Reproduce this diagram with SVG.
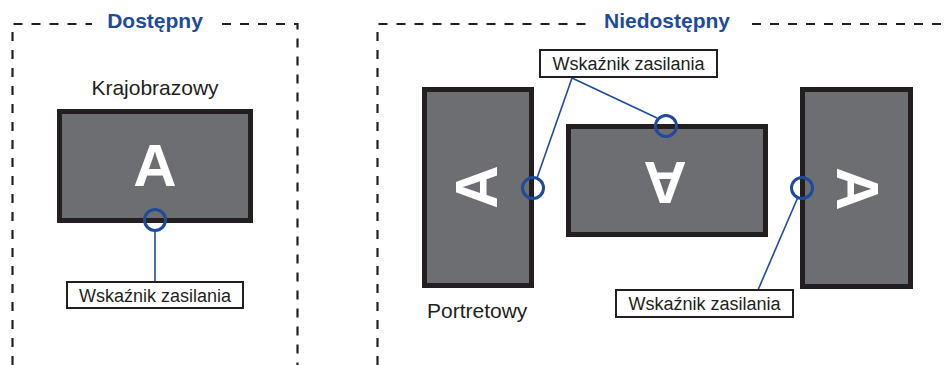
<svg xmlns="http://www.w3.org/2000/svg" width="949" height="365" viewBox="0 0 949 365">
<style>
.dash{fill:none;stroke:#231f20;stroke-width:2.2;stroke-dasharray:9 9}
.title{font-family:"Liberation Sans",Arial,sans-serif;font-weight:bold;font-size:21px;fill:#1e4b9b;text-anchor:middle}
.lbl{font-family:"Liberation Sans",Arial,sans-serif;font-size:21px;fill:#231f20}
.mon{fill:#6d6e71;stroke:#231f20;stroke-width:5}
.bigA{font-family:"Liberation Sans",Arial,sans-serif;font-weight:bold;font-size:60px;fill:#ffffff;text-anchor:middle}
.led{fill:none;stroke:#1e4b9b;stroke-width:3}
.conn{fill:none;stroke:#1e4b9b;stroke-width:1.6}
.box{fill:#ffffff;stroke:#231f20;stroke-width:2}
.boxt{font-family:"Liberation Sans",Arial,sans-serif;font-size:18px;fill:#231f20;text-anchor:middle}
</style>
<rect width="949" height="365" fill="#ffffff"/>
<g id="frame-available">
<path class="dash" d="M12.5,365 V24 H92"/>
<path class="dash" d="M222,24 H297.5 V365"/>
<text class="title" x="155" y="28">Dostępny</text>
</g>
<g id="frame-unavailable">
<path class="dash" d="M377.5,365 V24 H586"/>
<path class="dash" d="M752,24 H949"/>
<text class="title" x="667" y="28">Niedostępny</text>
</g>
<g id="landscape">
<text class="lbl" x="155" y="95" text-anchor="middle">Krajobrazowy</text>
<rect class="mon" x="59.5" y="111.5" width="191" height="109"/>
<text class="bigA" x="155" y="186">A</text>
<circle class="led" cx="155" cy="220" r="10.5"/>
</g>
<g id="portrait-left">
<rect class="mon" x="424.5" y="89.5" width="107" height="196"/>
<g transform="translate(475,187) rotate(-90)"><text class="bigA" x="0" y="21.5">A</text></g>
<circle class="led" cx="533" cy="188" r="10.5"/>
<text class="lbl" x="427" y="318">Portretowy</text>
</g>
<g id="landscape-flipped">
<rect class="mon" x="568.5" y="126.5" width="197" height="108"/>
<g transform="translate(665,183) rotate(180)"><text class="bigA" x="0" y="21.5">A</text></g>
<circle class="led" cx="666" cy="126" r="10.5"/>
</g>
<g id="portrait-right">
<rect class="mon" x="802.5" y="89.5" width="108" height="197"/>
<g transform="translate(858,189) rotate(90)"><text class="bigA" x="0" y="21.5">A</text></g>
<circle class="led" cx="802" cy="188" r="10.5"/>
</g>
<g id="connectors">
<line class="conn" x1="155" y1="231" x2="155" y2="282"/>
<line class="conn" x1="572" y1="78" x2="537" y2="178"/>
<line class="conn" x1="572" y1="78" x2="657" y2="118"/>
<line class="conn" x1="758" y1="290" x2="798" y2="197"/>
</g>
<g id="label-left">
<rect class="box" x="67" y="282" width="176" height="26"/>
<text class="boxt" x="155" y="302">Wskaźnik zasilania</text>
</g>
<g id="label-top">
<rect class="box" x="540" y="50" width="177" height="27"/>
<text class="boxt" x="628.5" y="70">Wskaźnik zasilania</text>
</g>
<g id="label-right">
<rect class="box" x="616" y="290" width="177" height="27"/>
<text class="boxt" x="704.5" y="310">Wskaźnik zasilania</text>
</g>
</svg>
